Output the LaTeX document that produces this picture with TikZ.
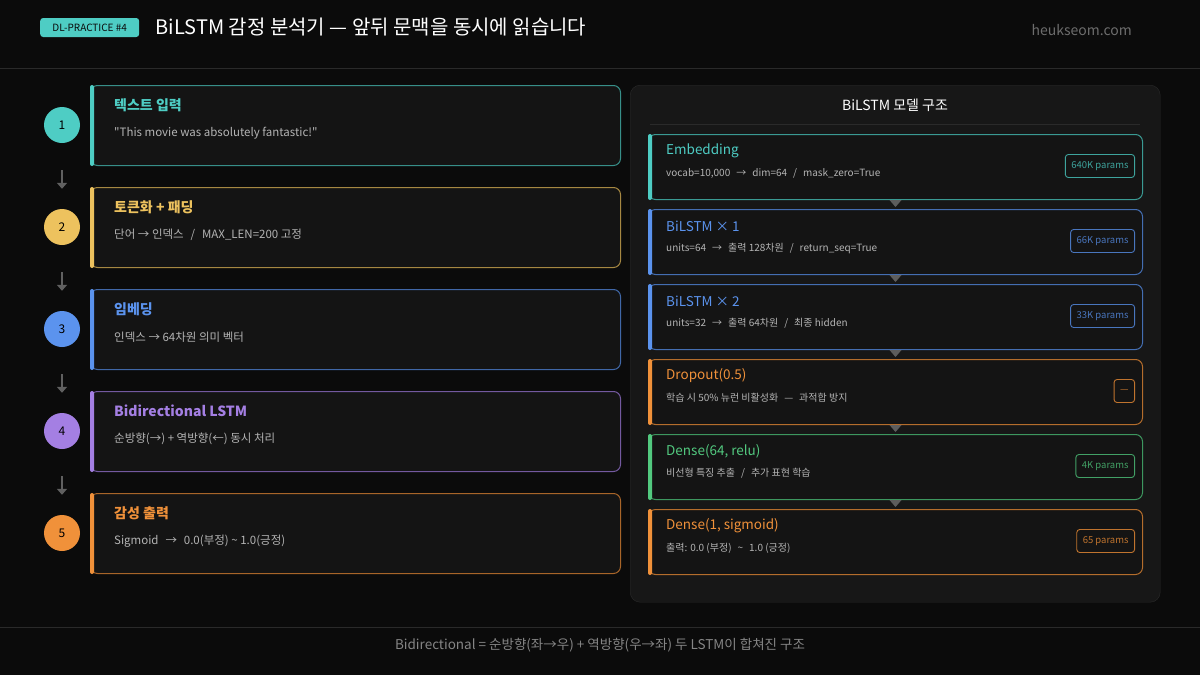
\documentclass[tikz,border=0pt]{standalone}
\usepackage{fontspec}
\setmainfont{Noto Sans CJK KR}
\usetikzlibrary{positioning,arrows.meta,shapes.geometric}
\definecolor{bgc}{HTML}{0B0B0B}
\definecolor{cardc}{HTML}{141414}
\definecolor{panelc}{HTML}{171717}
\definecolor{linec}{HTML}{2A2A2A}
\definecolor{subc}{HTML}{B4B4B4}
\definecolor{teal}{HTML}{4ECDC4}
\definecolor{yel}{HTML}{EDC25E}
\definecolor{blu}{HTML}{5B93EE}
\definecolor{pur}{HTML}{A47FE3}
\definecolor{ora}{HTML}{F0913A}
\definecolor{grn}{HTML}{52C97F}
\newcommand{\gap}{\hspace{0.6em}}
\tikzset{
  card/.style={draw=#1!70!black,fill=cardc,rounded corners=7,line width=1pt,
    minimum width=530,minimum height=80,anchor=north west,inner sep=0},
  layer/.style={draw=#1!75!black,fill=cardc,rounded corners=7,line width=1pt,
    minimum width=494,minimum height=65,anchor=north west,inner sep=0},
  ttl/.style={text=#1,font=\fontsize{14}{16}\selectfont\bfseries,anchor=west,inner sep=0},
  sub/.style={text=subc,font=\fontsize{11.5}{13}\selectfont,anchor=west,inner sep=0},
  lttl/.style={text=#1,font=\fontsize{13.5}{16}\selectfont,anchor=west,inner sep=0},
  lsub/.style={text=subc,font=\fontsize{10}{12}\selectfont,anchor=west,inner sep=0},
  numc/.style={circle,fill=#1,minimum size=36,inner sep=0,text=black,font=\fontsize{12}{14}\selectfont},
  pbadge/.style={draw=#1,rounded corners=3,text=#1,font=\fontsize{9.5}{11}\selectfont,
    minimum height=23,inner xsep=6,anchor=east,line width=0.9pt},
}
\begin{document}
\begin{tikzpicture}[x=1pt,y=-1pt]
\fill[bgc] (0,0) rectangle (1200,675);
\useasboundingbox (0,0) rectangle (1200,675);
% header
\node[fill=teal,rounded corners=3,text=bgc,font=\fontsize{10}{12}\selectfont,
  minimum width=99,minimum height=19,inner sep=0,anchor=west] (badge) at (40,27.5) {DL-PRACTICE \#4};
\node[text=white,font=\fontsize{20}{22}\selectfont,anchor=west,inner sep=0] (title)
  [right=16 of badge] {BiLSTM 감정 분석기 — 앞뒤 문맥을 동시에 읽습니다};
\node[text=white!40!bgc,font=\fontsize{14}{16}\selectfont,anchor=east,inner sep=0] (site) at (1132,30) {heukseom.com};
\draw[linec] (0,68) -- (1200,68);
\draw[linec] (0,627) -- (1200,627);
\node[text=white!50!bgc,font=\fontsize{13.5}{16}\selectfont,inner sep=0] (foot) at (600,645)
  {Bidirectional = 순방향(좌→우) + 역방향(우→좌) 두 LSTM이 합쳐진 구조};
% left pipeline
\foreach \i/\col/\head/\txt in {
  1/teal/{텍스트 입력}/{\textquotedbl This movie was absolutely fantastic!\textquotedbl},
  2/yel/{토큰화 + 패딩}/{단어 → 인덱스\gap/\gap MAX\_LEN=200 고정},
  3/blu/{임베딩}/{인덱스 → 64차원 의미 벡터},
  4/pur/{Bidirectional LSTM}/{순방향(→) + 역방향(←) 동시 처리},
  5/ora/{감성 출력}/{Sigmoid\gap →\gap 0.0(부정) \textasciitilde{} 1.0(긍정)}}{
  \node[card=\col] (c\i) at (90,{85+102*(\i-1)}) {};
  \fill[\col,rounded corners=2] (c\i.north west) rectangle ([xshift=4]c\i.south west);
  \node[ttl=\col] (t\i) at ([xshift=24,yshift=-20]c\i.north west) {\head};
  \node[sub] (s\i) at ([xshift=24,yshift=-48]c\i.north west) {\txt};
  \node[numc=\col] (n\i) at (62,{125+102*(\i-1)}) {\i};
}
\foreach \i [evaluate=\i as \j using int(\i+1)] in {1,...,4}
  \draw[white!35!bgc,line width=2pt,-{Triangle[length=6pt,width=10pt]},shorten <=27,shorten >=20] (n\i) -- (n\j);
% right panel
\node[draw=linec,fill=panelc,rounded corners=10,minimum width=530,minimum height=517,
  anchor=north west,inner sep=0] (panel) at (630,85) {};
\node[text=white,font=\fontsize{14}{16}\selectfont,inner sep=0] (ptitle) at (895,105) {BiLSTM 모델 구조};
\draw[linec] (650,124) -- (1140,124);
\foreach \i/\col/\head/\txt/\prm in {
  1/teal/{Embedding}/{vocab=10,000\gap →\gap dim=64\gap /\gap mask\_zero=True}/{640K params},
  2/blu/{BiLSTM × 1}/{units=64\gap →\gap 출력 128차원\gap /\gap return\_seq=True}/{66K params},
  3/blu/{BiLSTM × 2}/{units=32\gap →\gap 출력 64차원\gap /\gap 최종 hidden}/{33K params},
  4/ora/{Dropout(0.5)}/{학습 시 50\% 뉴런 비활성화\gap —\gap 과적합 방지}/{—},
  5/grn/{Dense(64, relu)}/{비선형 특징 추출\gap /\gap 추가 표현 학습}/{4K params},
  6/ora/{Dense(1, sigmoid)}/{출력: 0.0 (부정)\gap \textasciitilde{}\gap 1.0 (긍정)}/{65 params}}{
  \node[layer=\col] (L\i) at (648,{134+75*(\i-1)}) {};
  \fill[\col,rounded corners=2] (L\i.north west) rectangle ([xshift=4]L\i.south west);
  \node[lttl=\col] (lt\i) at ([xshift=18,yshift=-17]L\i.north west) {\head};
  \node[lsub] (ls\i) at ([xshift=18,yshift=-39]L\i.north west) {\txt};
  \node[pbadge=\col!80!black] (p\i) at ([xshift=-8,yshift=-32]L\i.north east) {\prm};
}
\foreach \i in {1,...,5}
  \fill[white!30!panelc] ([xshift=-6]L\i.south) -- ([xshift=6]L\i.south) -- ([yshift=-7]L\i.south) -- cycle;
\end{tikzpicture}
\end{document}
